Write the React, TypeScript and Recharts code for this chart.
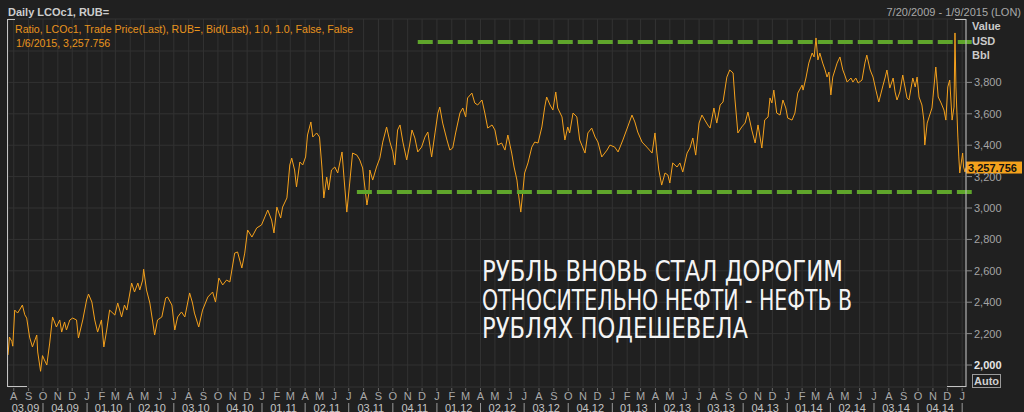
import React from "react"
import { LineChart, Line, XAxis, YAxis, CartesianGrid, ReferenceLine } from "recharts"

// days counted from 7/20/2009, ratio = LCOc1 (USD/bbl) * RUB=
const obsDays = [
  0, 3, 8, 10, 14, 20, 24, 30, 35, 39,
  45, 51, 60, 62, 68, 72, 76, 81, 87, 93,
  101, 108, 112, 118, 122, 129, 135, 143, 147, 156,
  164, 168, 175, 181, 187, 195, 200, 206, 212, 223,
  229, 237, 243, 248, 258, 264, 271, 275, 281, 283,
  289, 296, 302, 306, 312, 321, 329, 333, 342, 348,
  354, 362, 369, 379, 385,
  389, 398, 406, 417, 427, 433, 440, 448, 456, 463,
  473, 479, 488, 494, 500, 509, 519, 529, 536, 542,
  550, 555, 561, 569, 573, 582, 588, 592, 598, 602,
  609, 615, 621, 625, 632, 636, 644, 650, 655, 659,
  665, 669, 675, 682, 688, 697, 701, 707, 713, 719,
  728, 734, 740, 749, 753,
  755, 761, 769, 776, 782, 790, 797, 803, 807, 813,
  818, 824, 832, 838, 843, 849, 855, 863, 870, 876,
  884, 891, 897, 901, 907, 916, 922, 928, 934, 943,
  949, 955, 959, 968, 974, 980, 989, 995, 1001, 1010,
  1016, 1022, 1030, 1037, 1043, 1051, 1056, 1062, 1066, 1070,
  1074, 1078, 1085, 1093, 1099, 1106, 1114, 1120, 1124, 1131,
  1137, 1143, 1147, 1156, 1162, 1168,
  1172, 1179, 1187, 1193, 1204, 1210, 1218, 1225, 1231, 1239,
  1250, 1256, 1266, 1273, 1283, 1293, 1302, 1308, 1314, 1323,
  1333, 1344, 1350, 1354, 1358, 1364, 1371, 1377, 1381, 1387,
  1396, 1402, 1408, 1417, 1423, 1429, 1435, 1442, 1448, 1454,
  1460, 1465, 1473, 1479, 1486, 1492, 1500, 1506, 1513, 1517,
  1523, 1531, 1538, 1544, 1552, 1559, 1565, 1573, 1579, 1586,
  1590, 1594, 1598, 1604, 1611, 1617, 1623, 1627, 1636, 1642,
  1648, 1657, 1659, 1665, 1671, 1678, 1682, 1686, 1690, 1694,
  1700, 1705, 1709, 1713, 1717, 1721, 1730, 1736, 1742, 1746,
  1751, 1759, 1763, 1769, 1774, 1782, 1788, 1792, 1799, 1805,
  1811, 1817, 1826, 1830, 1834, 1840, 1847, 1851, 1855, 1861,
  1867, 1876, 1880, 1888, 1893, 1897, 1901, 1907, 1911, 1913,
  1918, 1922, 1928, 1930, 1936, 1941, 1947, 1953, 1957, 1961,
  1965, 1970, 1974, 1976, 1978, 1982, 1984, 1986, 1992, 1994,
  1997, 1999,
]

const obsRatio = [
  2064, 2178, 2150, 2120, 2350, 2331, 2350, 2382, 2320, 2299,
  2178, 2115, 2191, 2083, 1960, 2060, 2032, 2000, 2140, 2306,
  2242, 2287, 2210, 2274, 2223, 2287, 2299, 2287, 2172, 2287,
  2414, 2452, 2401, 2287, 2210, 2287, 2115, 2223, 2350, 2318,
  2395, 2306, 2382, 2350, 2522, 2465, 2522, 2478, 2541, 2610,
  2478, 2395, 2274, 2191, 2287, 2306, 2427, 2433, 2382, 2223,
  2306, 2338, 2306, 2459, 2395,
  2331, 2242, 2350, 2433, 2465, 2401, 2554, 2510, 2541, 2529,
  2713, 2720, 2618, 2713, 2860, 2815, 2873, 2892, 2943, 2987,
  2924, 2841, 3006, 2936, 3006, 3064, 3274, 3318, 3242, 3134,
  3293, 3274, 3325, 3465, 3548, 3452, 3478, 3452, 3261, 3064,
  3197, 3115, 3242, 3261, 3223, 3357, 3197, 2974, 3159, 3350,
  3337, 3306, 3255, 3019, 3095,
  3242, 3178, 3261, 3318, 3420, 3516, 3420, 3357, 3274, 3497,
  3529, 3420, 3306, 3401, 3497, 3446, 3357, 3388, 3452, 3484,
  3325, 3478, 3605, 3643, 3541, 3433, 3369, 3382, 3478, 3605,
  3637, 3580, 3701, 3732, 3669, 3656, 3688, 3605, 3509, 3529,
  3497, 3401, 3414, 3369, 3465, 3350, 3261, 3178, 3070, 2974,
  3095, 3223, 3287, 3388, 3420, 3414, 3516, 3643, 3707, 3656,
  3624, 3739, 3637, 3580, 3433, 3516,
  3478, 3605, 3580, 3433, 3350, 3478, 3509, 3452, 3420, 3325,
  3369, 3401, 3388, 3357, 3433, 3516, 3592, 3548, 3484, 3420,
  3388, 3350, 3478, 3350, 3242, 3146, 3223, 3210, 3159, 3287,
  3261, 3287, 3229, 3350, 3382, 3446, 3337, 3541, 3592, 3560,
  3529, 3509, 3637, 3541, 3656, 3675, 3834, 3879, 3860, 3688,
  3478, 3516, 3541, 3611, 3497, 3414, 3529, 3382, 3561, 3580,
  3701, 3669, 3751, 3605, 3592, 3688, 3637, 3573, 3560, 3605,
  3732, 3783, 3751, 3828, 3923, 3987, 3962, 4083, 3943, 3987,
  3923, 3879, 3834, 3866, 3720, 3834, 3923, 3962, 3879, 3847,
  3802, 3828, 3802, 3828, 3796, 3815, 3923, 3974, 3879, 3834,
  3751, 3675, 3783, 3828, 3879, 3764, 3828, 3739, 3688, 3739,
  3847, 3701, 3688, 3828, 3771, 3834, 3707, 3656, 3560, 3401,
  3541, 3580, 3637, 3701, 3898, 3707, 3669, 3624, 3560, 3771,
  3815, 3560, 3643, 4115, 3771, 3452, 3325, 3223, 3350, 3261,
  3229, 3257.756,
]

const monthLetters = ["J", "F", "M", "A", "M", "J", "J", "A", "S", "O", "N", "D"]
const quarterLabels = [
  "03.09", "04.09", "01.10", "02.10", "03.10", "04.10", "01.11", "02.11", "03.11", "04.11", "01.12",
  "02.12", "03.12", "04.12", "01.13", "02.13", "03.13", "04.13", "01.14", "02.14", "03.14", "04.14",
]
const yTicks = [2000, 2200, 2400, 2600, 2800, 3000, 3200, 3400, 3600, 3800, 4000]
const resistance = { from: 855, level: 4057 }
const support = { from: 728, level: 3102 }
const lastValue = 3257.756
const lastDay = 1999

const START = Date.UTC(2009, 6, 20)
const DAY = 86400000
const dayOf = (y: number, m: number) => (Date.UTC(y, m, 1) - START) / DAY

const data = obsDays.map((d, i) => ({ day: d, ratio: obsRatio[i] }))

const monthStarts = Array.from({ length: 66 }, (_, i) => ({
  day: dayOf(2009, 7 + i),
  month: new Date(Date.UTC(2009, 7 + i, 1)).getUTCMonth(),
}))
const monthTicks = monthStarts.map((m) => m.day)
const quarterMids = quarterLabels.map((_, q) => {
  const s = Math.max(0, dayOf(2009, 6 + 3 * q))
  const e = Math.min(lastDay, dayOf(2009, 9 + 3 * q))
  return (s + e) / 2
})

const FONT = "'Liberation Sans', Arial, sans-serif"
const GREEN = "#5fa52b"

const MonthTick = (props: any) => {
  const { x, payload } = props
  const m = monthStarts.find((s) => s.day === payload.value)
  if (!m) return <g />
  const qStart = m.month % 3 === 0
  return (
    <g>
      <line x1={x} x2={x} y1={388} y2={391} stroke="#6a6a6a" />
      <text x={x} y={400} textAnchor="middle" fontSize={11} fill="#a8a8a8" fontFamily={FONT}>
        {monthLetters[m.month]}
      </text>
      {qStart && <line x1={x} x2={x} y1={403} y2={412} stroke="#9a9a9a" />}
    </g>
  )
}

const QuarterTick = (props: any) => {
  const { x, payload } = props
  const i = quarterMids.indexOf(payload.value)
  return (
    <text x={x} y={411.5} textAnchor="middle" fontSize={11} fill="#c4c4c4" fontFamily={FONT}>
      {quarterLabels[i]}
    </text>
  )
}

const PriceTick = (props: any) => {
  const { y, payload } = props
  if (payload.value > 3800) return <g />
  const low = payload.value === 2000
  return (
    <g>
      <line x1={966} x2={972} y1={y} y2={y} stroke="#8a8a8a" />
      <text
        x={974}
        y={y + 4}
        fontSize={11}
        fontWeight={low ? 700 : 400}
        fill={low ? "#e6e6e6" : "#a4a4a4"}
        fontFamily={FONT}
      >
        {payload.value.toLocaleString("en-US")}
      </text>
    </g>
  )
}

const ValueTag = (props: any) => {
  const vb = props.viewBox
  if (!vb) return null
  const x = vb.x + vb.width
  return (
    <g>
      <rect x={x} y={vb.y - 6} width={56} height={12} fill="#f5a11c" />
      <text x={x + 2} y={vb.y + 4} fontSize={11} fontWeight={700} fill="#111" fontFamily={FONT}>
        {lastValue.toLocaleString("en-US", { minimumFractionDigits: 3 })}
      </text>
    </g>
  )
}

export default function App() {
  return (
    <div
      style={{
        position: "fixed",
        left: 0,
        top: 0,
        width: 1024,
        height: 412,
        background: "#202020",
        overflow: "hidden",
      }}
    >
      <LineChart width={1024} height={412} data={data} margin={{ top: 19, right: 0, bottom: 0, left: 8 }}>
        <CartesianGrid stroke="#323232" />
        <XAxis
          xAxisId={0}
          dataKey="day"
          type="number"
          domain={[0, lastDay]}
          ticks={monthTicks}
          interval={0}
          height={12}
          axisLine={false}
          tickLine={false}
          tick={MonthTick}
          allowDataOverflow
        />
        <XAxis
          xAxisId="q"
          dataKey="day"
          type="number"
          domain={[0, lastDay]}
          ticks={quarterMids}
          interval={0}
          height={13}
          axisLine={false}
          tickLine={false}
          tick={QuarterTick}
          allowDataOverflow
        />
        <YAxis
          orientation="right"
          width={58}
          domain={[1860, 4203.8]}
          ticks={yTicks}
          interval={0}
          allowDataOverflow
          axisLine={{ stroke: "#c4c4c4" }}
          tickLine={false}
          tick={PriceTick}
        />
        <Line
          xAxisId={0}
          dataKey="ratio"
          type="linear"
          stroke="#f5a11c"
          strokeWidth={1}
          dot={false}
          isAnimationActive={false}
        />
        <ReferenceLine
          xAxisId={0}
          segment={[
            { x: resistance.from, y: resistance.level },
            { x: 2011, y: resistance.level },
          ]}
          stroke={GREEN}
          strokeWidth={4}
          strokeDasharray="15 5"
          ifOverflow="visible"
        />
        <ReferenceLine
          xAxisId={0}
          segment={[
            { x: support.from, y: support.level },
            { x: 2011, y: support.level },
          ]}
          stroke={GREEN}
          strokeWidth={4}
          strokeDasharray="15 5"
          ifOverflow="visible"
        />
        <ReferenceLine xAxisId={0} y={lastValue} strokeOpacity={0} label={(p: any) => <ValueTag {...p} />} />
      </LineChart>

      <svg
        width={1024}
        height={412}
        style={{ position: "absolute", left: 0, top: 0, pointerEvents: "none" }}
        fontFamily={FONT}
      >
        <line x1={7.5} x2={7.5} y1={19} y2={387} stroke="#c4c4c4" />
        <line x1={7} x2={15} y1={19.5} y2={19.5} stroke="#c4c4c4" />
        <line x1={7} x2={27} y1={386.5} y2={386.5} stroke="#c4c4c4" />
        <line x1={955} x2={966} y1={19.5} y2={19.5} stroke="#c4c4c4" />
        <line x1={947} x2={966} y1={386.5} y2={386.5} stroke="#c4c4c4" />

        <text x={8} y={16} fontSize={11} fontWeight={700} fill="#cdcdcd">
          Daily LCOc1, RUB=
        </text>
        <text x={1021} y={16} fontSize={11} textAnchor="end" fill="#a8a8a8">
          7/20/2009 - 1/9/2015 (LON)
        </text>
        <text x={15} y={32.5} fontSize={10.6} fill="#e8941e">
          Ratio, LCOc1, Trade Price(Last), RUB=, Bid(Last),  1.0, 1.0, False, False
        </text>
        <text x={16} y={46.5} fontSize={10.6} fill="#e8941e">
          1/6/2015, 3,257.756
        </text>

        <text x={972} y={30} fontSize={11} fontWeight={700} fill="#cacaca">Value</text>
        <text x={972} y={45} fontSize={11} fontWeight={700} fill="#cacaca">USD</text>
        <text x={972} y={59} fontSize={11} fontWeight={700} fill="#cacaca">Bbl</text>

        <rect x={972.5} y={374.5} width={28} height={13} fill="none" stroke="#9a9a9a" />
        <text x={986.5} y={385} fontSize={11} fontWeight={700} textAnchor="middle" fill="#cfcfcf">
          Auto
        </text>

        <g fontFamily="'Liberation Sans Narrow', 'DejaVu Sans Condensed', sans-serif" fontSize={28} fill="#f4f4f4">
          <text x={482} y={281} textLength={361} lengthAdjust="spacingAndGlyphs">
            РУБЛЬ ВНОВЬ СТАЛ ДОРОГИМ
          </text>
          <text x={482} y={310} textLength={370} lengthAdjust="spacingAndGlyphs">
            ОТНОСИТЕЛЬНО НЕФТИ - НЕФТЬ В
          </text>
          <text x={482} y={338} textLength={266} lengthAdjust="spacingAndGlyphs">
            РУБЛЯХ ПОДЕШЕВЕЛА
          </text>
        </g>
      </svg>
    </div>
  )
}
